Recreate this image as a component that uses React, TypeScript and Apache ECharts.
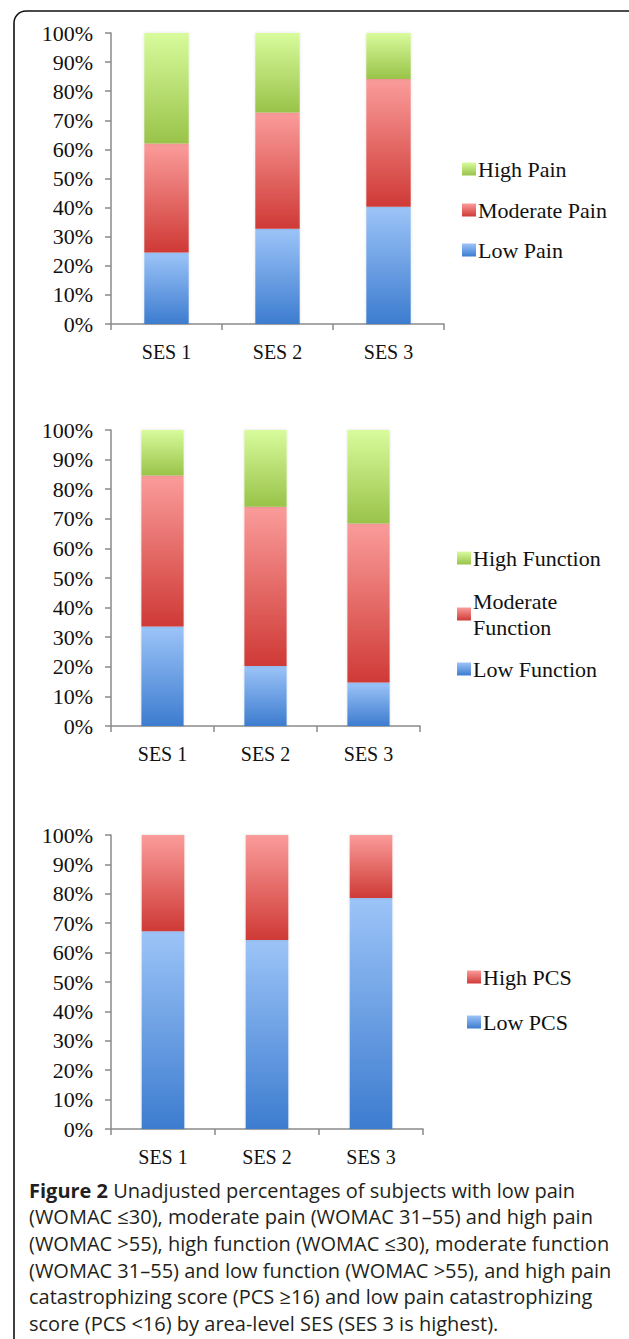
import React, { useEffect, useRef } from "react";
import * as echarts from "echarts";

const categories = ["SES 1", "SES 2", "SES 3"];

const lowPain = [24.6, 32.7, 40.3];
const moderatePain = [37.4, 40.0, 43.9];
const highPain = [38.0, 27.3, 15.8];

const lowFunction = [33.6, 20.3, 14.7];
const moderateFunction = [51.0, 53.8, 53.7];
const highFunction = [15.4, 25.9, 31.6];

const lowPCS = [67.3, 64.3, 78.6];
const highPCS = [32.7, 35.7, 21.4];

const captionLines = [
  "Unadjusted percentages of subjects with low pain",
  "(WOMAC \u226430), moderate pain (WOMAC 31\u201355) and high pain",
  "(WOMAC >55), high function (WOMAC \u226430), moderate function",
  "(WOMAC 31\u201355) and low function (WOMAC >55), and high pain",
  "catastrophizing score (PCS \u226516) and low pain catastrophizing",
  "score (PCS <16) by area-level SES (SES 3 is highest).",
];

const SERIF = "'Liberation Serif', 'Times New Roman', serif";
const AXIS_COLOR = "#8a8a8a";

const grad = (top: string, bottom: string) =>
  new echarts.graphic.LinearGradient(0, 0, 0, 1, [
    { offset: 0, color: top },
    { offset: 1, color: bottom },
  ]);

const BLUE = () => grad("#9cc4f8", "#3d7ccf");
const RED = () => grad("#fa9c9a", "#cf3a36");
const GREEN = () => grad("#d8fb9c", "#99c349");

export default function App() {
  const ref = useRef<HTMLDivElement>(null);

  useEffect(() => {
    document.body.style.margin = "0";
    if (!ref.current) return;
    const chart = echarts.init(ref.current, null, { renderer: "svg" });

    const grids = [
      { left: 111, top: 33, width: 333, height: 291 },
      { left: 111, top: 430, width: 309, height: 296 },
      { left: 111, top: 835, width: 312, height: 294 },
    ];

    const xAxes = grids.map((_, i) => ({
      type: "category",
      gridIndex: i,
      data: categories,
      axisLine: { show: true, lineStyle: { color: AXIS_COLOR, width: 1.5 } },
      axisTick: { show: true, length: 6, lineStyle: { color: AXIS_COLOR, width: 1.5 } },
      axisLabel: { color: "#111", fontFamily: SERIF, fontSize: 20, margin: 18 },
    }));

    const yAxes = grids.map((_, i) => ({
      type: "value",
      gridIndex: i,
      min: 0,
      max: 100,
      interval: 10,
      splitLine: { show: false },
      axisLine: { show: true, lineStyle: { color: AXIS_COLOR, width: 1.5 } },
      axisTick: { show: true, length: 6, lineStyle: { color: AXIS_COLOR, width: 1.5 } },
      axisLabel: {
        color: "#111",
        fontFamily: SERIF,
        fontSize: 22,
        margin: 18,
        formatter: "{value}%",
      },
    }));

    const bar = (
      name: string,
      data: number[],
      idx: number,
      color: any,
      width: string
    ) => ({
      name,
      type: "bar",
      stack: "s" + idx,
      xAxisIndex: idx,
      yAxisIndex: idx,
      data,
      barWidth: width,
      itemStyle: {
        color,
        shadowColor: "rgba(0,0,0,0.12)",
        shadowBlur: 3,
      },
    });

    const series = [
      bar("Low Pain", lowPain, 0, BLUE(), "40%"),
      bar("Moderate Pain", moderatePain, 0, RED(), "40%"),
      bar("High Pain", highPain, 0, GREEN(), "40%"),
      bar("Low Function", lowFunction, 1, BLUE(), "41%"),
      bar("Moderate Function", moderateFunction, 1, RED(), "41%"),
      bar("High Function", highFunction, 1, GREEN(), "41%"),
      bar("Low PCS", lowPCS, 2, BLUE(), "41%"),
      bar("High PCS", highPCS, 2, RED(), "41%"),
    ];

    const LEG_FS = 22;
    const legendItem = (name: string, left: number, centerY: number) => ({
      data: [name],
      left,
      top: centerY - LEG_FS / 2,
      orient: "vertical",
      padding: 0,
      itemWidth: 14,
      itemHeight: 13,
      icon: "rect",
      selectedMode: false,
      textStyle: { color: "#111", fontFamily: SERIF, fontSize: LEG_FS, padding: [0, 0, 0, -3] },
    });

    const legends = [
      legendItem("High Pain", 462, 169),
      legendItem("Moderate Pain", 462, 210),
      legendItem("Low Pain", 462, 250),
      legendItem("High Function", 457, 558),
      {
        data: ["Moderate Function"],
        left: 457,
        top: 614 - 39,
        orient: "vertical",
        padding: 0,
        itemWidth: 14,
        itemHeight: 13,
        icon: "rect",
        selectedMode: false,
        formatter: () => "Moderate\nFunction",
        textStyle: {
          color: "#111",
          fontFamily: SERIF,
          fontSize: LEG_FS,
          lineHeight: 26,
          padding: [26, 0, 0, -3],
        },
      },
      legendItem("Low Function", 457, 669),
      legendItem("High PCS", 467, 977),
      legendItem("Low PCS", 467, 1022),
    ];

    const CAP_FONT = "'Open Sans', 'Noto Sans', sans-serif";
    const CAP_FS = 20;
    const CAP_LH = 26.7;
    const captionText =
      "{b|Figure 2} {n|" + captionLines[0] + "}\n" +
      captionLines.slice(1).map((l) => "{n|" + l + "}").join("\n");

    chart.setOption({
      animation: false,
      backgroundColor: "#ffffff",
      grid: grids,
      xAxis: xAxes,
      yAxis: yAxes,
      legend: legends,
      series,
      graphic: [
        {
          type: "rect",
          shape: { x: 14, y: 11, width: 800, height: 1500, r: 12 },
          style: { fill: "none", stroke: "#111", lineWidth: 1.6 },
          silent: true,
        },
        {
          type: "text",
          left: 29,
          top: 1190 - CAP_LH / 2,
          style: {
            text: captionText,
            fill: "#231f20",
            fontFamily: CAP_FONT,
            fontSize: CAP_FS,
            lineHeight: CAP_LH,
            rich: {
              b: { fontWeight: "bold", fontFamily: CAP_FONT, fontSize: CAP_FS, lineHeight: CAP_LH, fill: "#231f20" },
              n: { fontFamily: CAP_FONT, fontSize: CAP_FS, lineHeight: CAP_LH, fill: "#231f20" },
            },
          },
        },
      ],
    });

    return () => chart.dispose();
  }, []);

  return <div ref={ref} style={{ width: 629, height: 1339 }} />;
}
